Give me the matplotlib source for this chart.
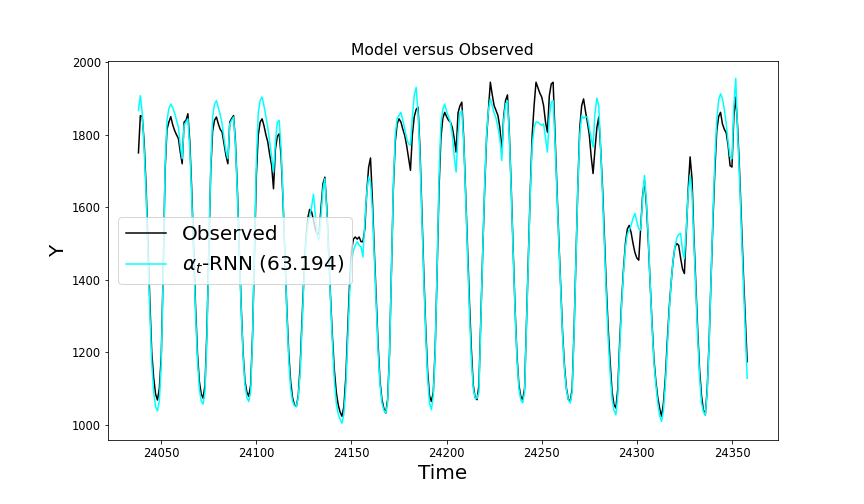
import numpy as np
import matplotlib
matplotlib.use('Agg')
import matplotlib.pyplot as plt

# hourly index shown on the x axis
t_start = 24038
t_end = 24358

# observed series, one row per daily cycle
observed = [
    1750, 1853, 1850, 1780, 1660, 1500, 1340, 1200, 1130, 1085,
    1068, 1100, 1190, 1420, 1700, 1815, 1835, 1850, 1828, 1812, 1800, 1790,
    1752, 1720, 1835, 1840, 1858, 1780, 1650, 1490, 1330, 1200, 1120, 1085,
    1073, 1110, 1260, 1480, 1700, 1810, 1840, 1849, 1830, 1815, 1807, 1775,
    1743, 1720, 1835, 1845, 1853, 1780, 1650, 1490, 1330, 1200, 1120, 1090,
    1078, 1110, 1250, 1470, 1690, 1800, 1835, 1844, 1825, 1800, 1780, 1745,
    1716, 1651, 1760, 1795, 1803, 1740, 1620, 1470, 1320, 1200, 1120, 1075, 1055,
    1050, 1080, 1160, 1290, 1410, 1510, 1570, 1594, 1588, 1565, 1540, 1525,
    1530, 1600, 1665, 1683, 1600, 1480, 1350, 1240, 1150, 1090, 1055, 1035, 1023,
    1050, 1130, 1260, 1390, 1480, 1512, 1518, 1512, 1518, 1505, 1505, 1540,
    1640, 1710, 1736, 1620, 1480, 1350, 1220, 1120, 1070, 1045, 1032,
    1070, 1200, 1420, 1650, 1780, 1830, 1844, 1835, 1815, 1798, 1770, 1735,
    1702, 1800, 1850, 1870, 1876, 1760, 1590, 1420, 1270, 1150, 1080, 1064,
    1090, 1210, 1420, 1650, 1790, 1845, 1862, 1850, 1840, 1835, 1820, 1790,
    1752, 1860, 1880, 1890, 1790, 1640, 1490, 1340, 1210, 1110, 1075, 1069,
    1110, 1300, 1480, 1650, 1790, 1870, 1945, 1910, 1880, 1867, 1853, 1820,
    1752, 1850, 1895, 1910, 1800, 1650, 1480, 1320, 1190, 1110, 1078, 1069,
    1100, 1280, 1470, 1650, 1800, 1881, 1945, 1930, 1915, 1904, 1880, 1835,
    1807, 1908, 1940, 1945, 1800, 1650, 1510, 1380, 1250, 1160, 1100, 1070, 1064,
    1100, 1260, 1460, 1660, 1820, 1880, 1899, 1865, 1835, 1800, 1740, 1693,
    1760, 1820, 1849, 1760, 1650, 1510, 1376, 1260, 1170, 1090, 1055, 1046,
    1100, 1230, 1340, 1430, 1500, 1540, 1550, 1530, 1500, 1475, 1460, 1454,
    1540, 1630, 1674, 1610, 1510, 1390, 1280, 1180, 1120, 1075, 1045, 1023,
    1060, 1130, 1230, 1320, 1390, 1450, 1490, 1500, 1495, 1460, 1430, 1417,
    1530, 1650, 1739, 1680, 1520, 1390, 1260, 1150, 1080, 1040, 1027,
    1100, 1230, 1400, 1560, 1700, 1810, 1850, 1862, 1830, 1815, 1805, 1770,
    1715, 1711, 1850, 1904, 1820, 1700, 1560, 1420, 1300, 1174,
]

# alpha_t-RNN prediction
predicted = [
    1867, 1908, 1860, 1760, 1640, 1470, 1310, 1170, 1090, 1050,
    1038, 1065, 1170, 1410, 1710, 1840, 1872, 1885, 1875, 1860, 1840, 1821,
    1771, 1734, 1826, 1835, 1844, 1760, 1630, 1470, 1310, 1180, 1100, 1065,
    1057, 1090, 1240, 1470, 1710, 1850, 1885, 1894, 1875, 1855, 1830, 1790,
    1755, 1734, 1830, 1840, 1849, 1770, 1640, 1480, 1320, 1190, 1110, 1075,
    1064, 1090, 1240, 1480, 1730, 1860, 1895, 1904, 1880, 1850, 1820, 1780,
    1740, 1697, 1780, 1835, 1840, 1760, 1630, 1470, 1310, 1180, 1100, 1065, 1052,
    1050, 1075, 1140, 1270, 1400, 1500, 1550, 1575, 1600, 1636, 1580, 1520,
    1509, 1580, 1650, 1679, 1590, 1470, 1340, 1220, 1120, 1060, 1030, 1015, 1004,
    1030, 1100, 1230, 1360, 1450, 1480, 1495, 1505, 1495, 1491, 1463, 1560,
    1640, 1683, 1670, 1590, 1460, 1330, 1200, 1110, 1060, 1040, 1032,
    1060, 1190, 1420, 1660, 1800, 1845, 1853, 1862, 1840, 1815, 1790, 1775,
    1771, 1850, 1910, 1931, 1860, 1740, 1570, 1400, 1250, 1130, 1060, 1041,
    1080, 1200, 1430, 1680, 1830, 1870, 1885, 1865, 1850, 1835, 1800, 1740,
    1697, 1800, 1860, 1867, 1780, 1630, 1470, 1310, 1180, 1100, 1073, 1073,
    1090, 1290, 1480, 1660, 1800, 1870, 1899, 1880, 1860, 1845, 1820, 1790,
    1729, 1840, 1885, 1894, 1790, 1640, 1470, 1310, 1180, 1100, 1068, 1060,
    1090, 1270, 1460, 1640, 1770, 1820, 1835, 1835, 1830, 1826, 1830, 1790,
    1752, 1850, 1890, 1894, 1780, 1640, 1500, 1370, 1240, 1150, 1095, 1068, 1060,
    1090, 1250, 1450, 1660, 1800, 1853, 1845, 1849, 1849, 1820, 1790, 1766,
    1860, 1901, 1880, 1760, 1630, 1490, 1350, 1230, 1140, 1070, 1040, 1027,
    1080, 1210, 1330, 1420, 1490, 1525, 1537, 1550, 1570, 1583, 1560, 1540,
    1537, 1620, 1688, 1620, 1520, 1390, 1270, 1170, 1110, 1060, 1025, 1009,
    1040, 1110, 1210, 1310, 1390, 1450, 1490, 1515, 1525, 1528, 1480, 1459,
    1540, 1640, 1688, 1640, 1500, 1370, 1240, 1130, 1060, 1035, 1027,
    1090, 1220, 1400, 1580, 1730, 1840, 1895, 1913, 1900, 1870, 1830, 1780,
    1740, 1734, 1880, 1956, 1800, 1680, 1530, 1390, 1260, 1128,
]

rmse_label = "63.194"

t = np.arange(t_start, t_end + 1)
assert len(t) == len(observed) == len(predicted)

fig = plt.figure(figsize=(12, 7), dpi=72)
ax = fig.add_subplot(111)
fig.subplots_adjust(left=0.125, right=0.9, bottom=0.126, top=0.879)

ax.plot(t, observed, color='black', linewidth=1.5, label='Observed')
ax.plot(t, predicted, color='cyan', linewidth=1.5,
        label=r'$\alpha_t$-RNN (' + rmse_label + ')')

ax.set_title('Model versus Observed', fontsize=15.5)
ax.set_xlabel('Time', fontsize=20)
ax.set_ylabel('Y', fontsize=20)
ax.tick_params(labelsize=11.5)
ax.legend(loc='center left', fontsize=20)

fig.savefig('out.png', dpi=72)
